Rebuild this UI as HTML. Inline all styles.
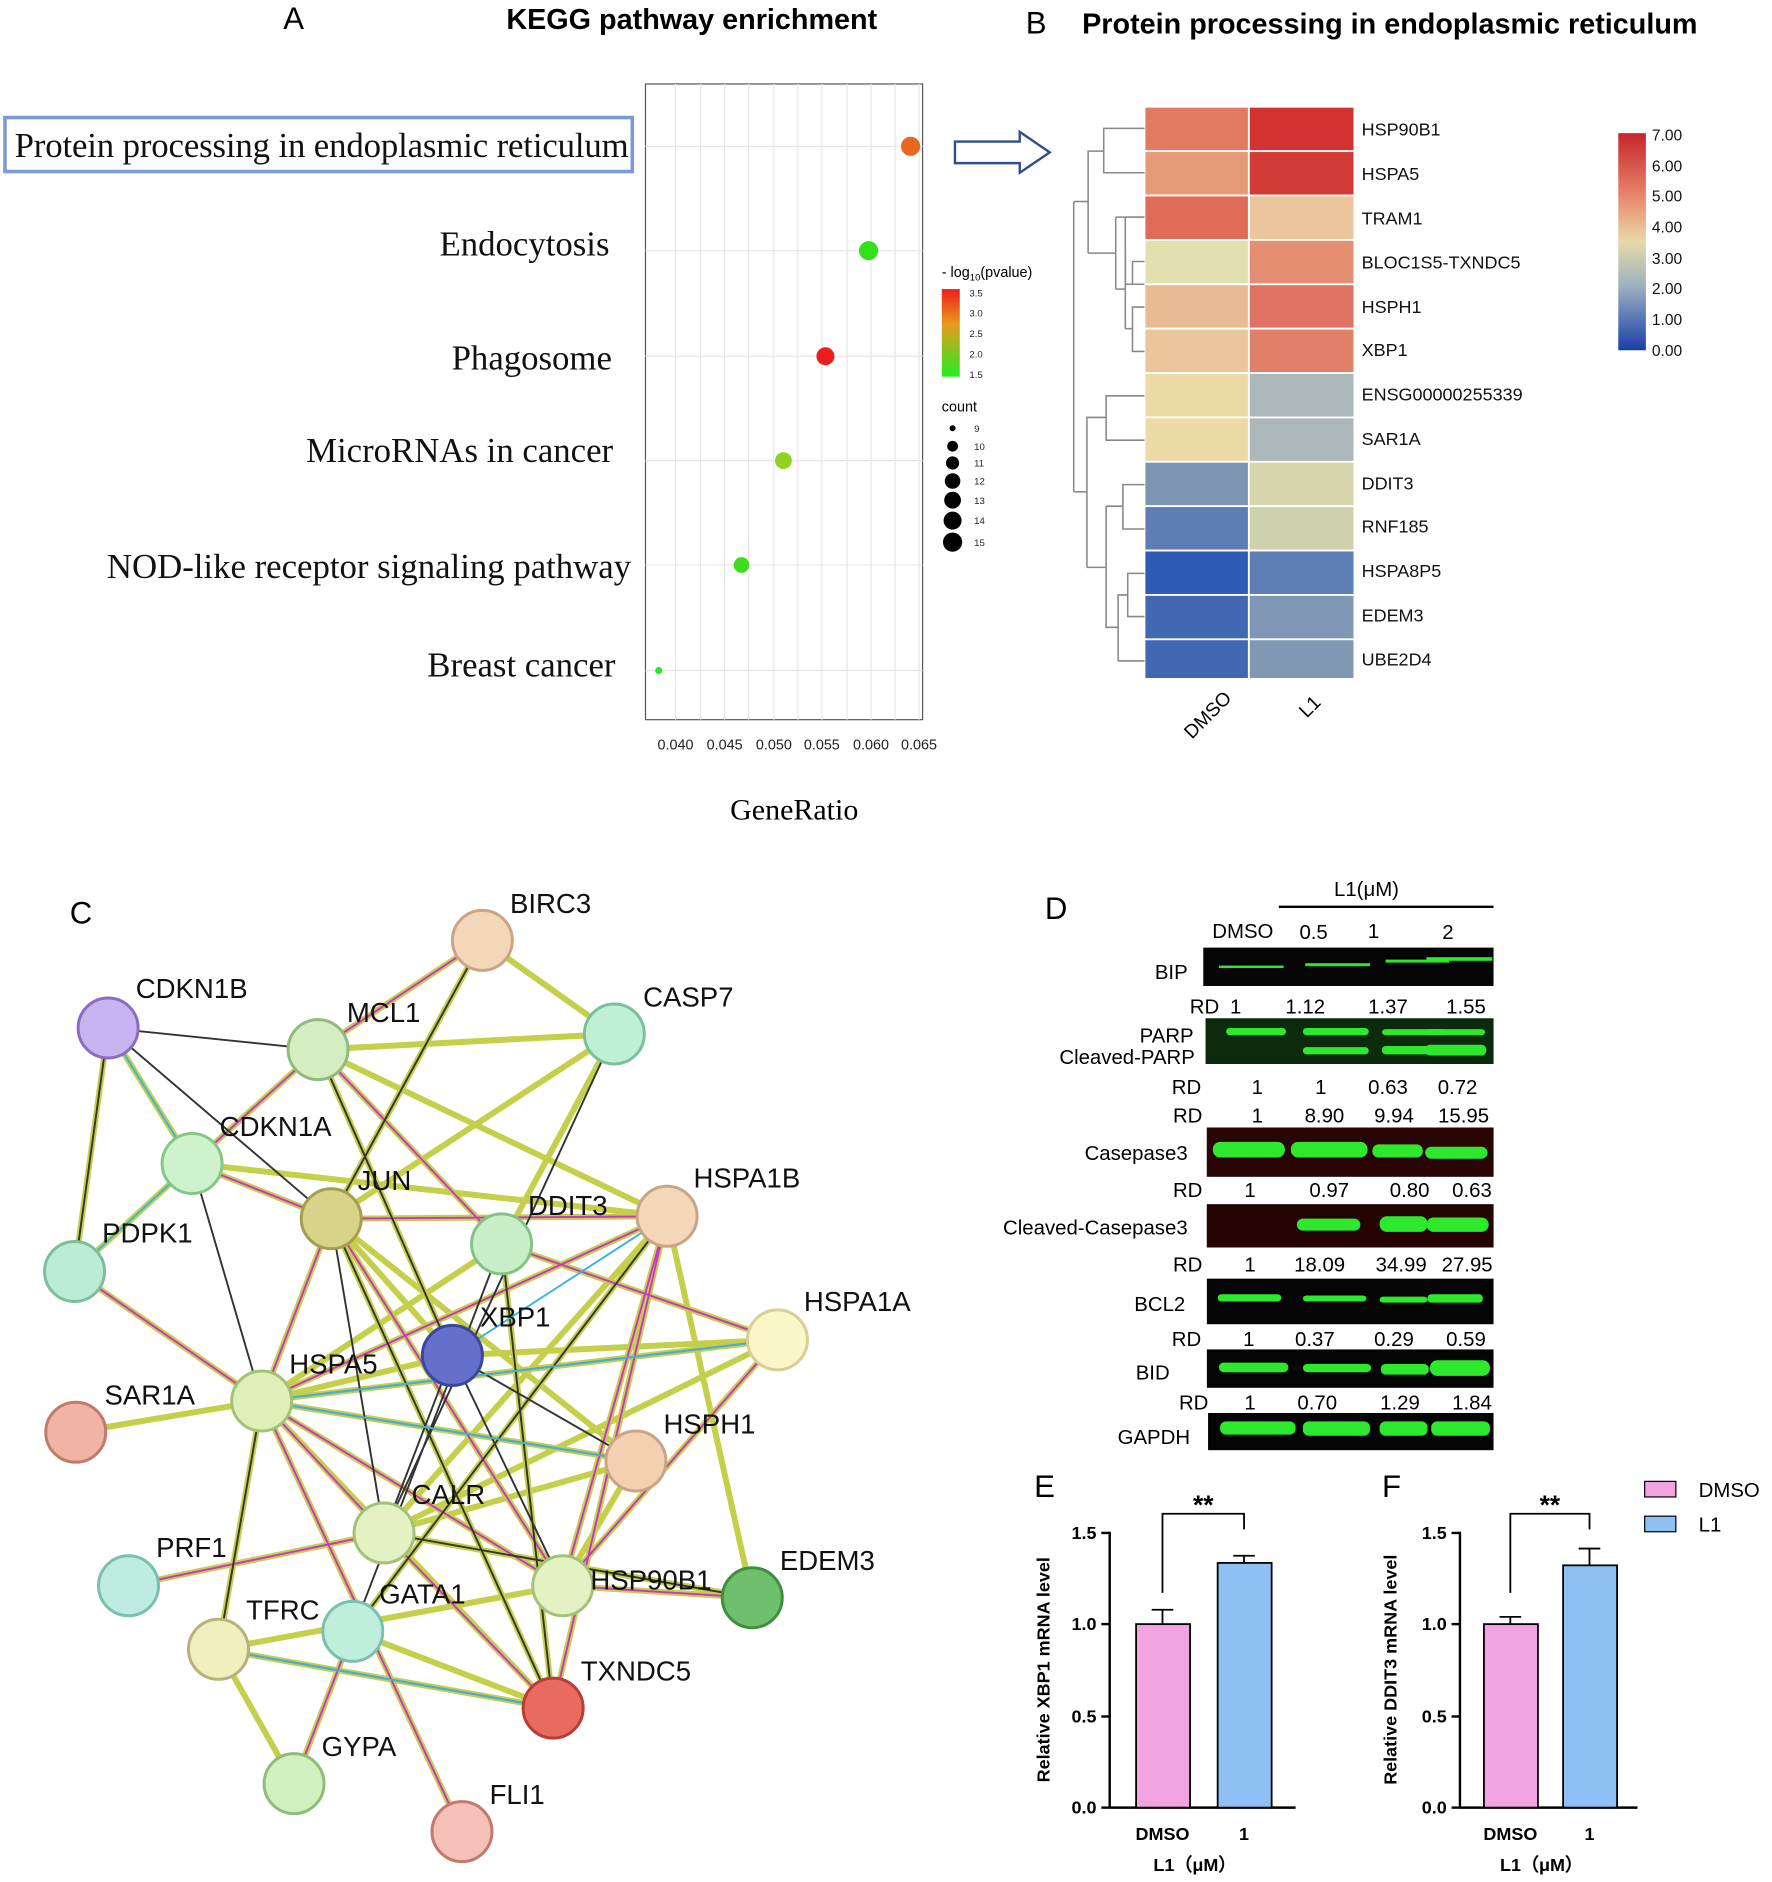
<!DOCTYPE html>
<html><head><meta charset="utf-8"><style>
html,body{margin:0;padding:0;background:#fff}
svg{display:block}
text{font-family:"Liberation Sans",sans-serif}
.ser text,text.ser{font-family:"Liberation Serif",serif}
</style></head><body>
<svg width="1772" height="1882" viewBox="0 0 1477 1569" xmlns="http://www.w3.org/2000/svg">
<!-- Panel A -->
<text x="236" y="24" font-size="26">A</text>
<text x="422" y="24" font-size="24" font-weight="bold">KEGG  pathway enrichment</text>
<rect x="538" y="70" width="231" height="530" fill="#fff" stroke="#555" stroke-width="1"/>
<g stroke="#e6e6e6" stroke-width="1">
<line x1="563" y1="70" x2="563" y2="600"/><line x1="584" y1="70" x2="584" y2="600"/><line x1="604" y1="70" x2="604" y2="600"/><line x1="624" y1="70" x2="624" y2="600"/><line x1="645" y1="70" x2="645" y2="600"/><line x1="665" y1="70" x2="665" y2="600"/><line x1="685" y1="70" x2="685" y2="600"/><line x1="706" y1="70" x2="706" y2="600"/><line x1="726" y1="70" x2="726" y2="600"/><line x1="746" y1="70" x2="746" y2="600"/><line x1="766" y1="70" x2="766" y2="600"/>
<line x1="538" y1="122" x2="769" y2="122"/><line x1="538" y1="209" x2="769" y2="209"/><line x1="538" y1="297" x2="769" y2="297"/><line x1="538" y1="384" x2="769" y2="384"/><line x1="538" y1="471" x2="769" y2="471"/><line x1="538" y1="559" x2="769" y2="559"/>
</g>
<g font-size="12" fill="#222" text-anchor="middle">
<text x="563" y="625">0.040</text><text x="604" y="625">0.045</text><text x="645" y="625">0.050</text><text x="685" y="625">0.055</text><text x="726" y="625">0.060</text><text x="766" y="625">0.065</text></g>
<text class="ser" x="662" y="683" font-size="25" text-anchor="middle">GeneRatio</text>
<circle cx="759" cy="122" r="8" fill="#e8661d"/>
<circle cx="724" cy="209" r="8" fill="#33e01a"/>
<circle cx="688" cy="297" r="7.5" fill="#ee1c1c"/>
<circle cx="653" cy="384" r="7" fill="#8fd321"/>
<circle cx="618" cy="471" r="6.5" fill="#3ddd1c"/>
<circle cx="549" cy="559" r="3" fill="#22ee22"/>
<rect x="4" y="98" width="523" height="45" fill="none" stroke="#7b9bd4" stroke-width="3"/>
<g class="ser" font-size="29" text-anchor="end" fill="#111">
<text x="524" y="131" textLength="512">Protein processing in endoplasmic reticulum</text>
<text x="508" y="213">Endocytosis</text>
<text x="510" y="308">Phagosome</text>
<text x="511" y="385">MicroRNAs in cancer</text>
<text x="526" y="482">NOD-like receptor signaling pathway</text>
<text x="513" y="564">Breast cancer</text></g>
<text x="785" y="231" font-size="12">- log<tspan font-size="8" dy="3">10</tspan><tspan dy="-3">(pvalue)</tspan></text>
<defs><linearGradient id="pg" x1="0" y1="0" x2="0" y2="1"><stop offset="0" stop-color="#ee1c1c"/><stop offset="0.4" stop-color="#e89a1c"/><stop offset="1" stop-color="#22ee22"/></linearGradient>
<linearGradient id="hg" x1="0" y1="0" x2="0" y2="1"><stop offset="0" stop-color="#c8242b"/><stop offset="0.3" stop-color="#e98a6d"/><stop offset="0.5" stop-color="#e8d9a6"/><stop offset="0.7" stop-color="#9fb2c0"/><stop offset="1" stop-color="#1a3fa8"/></linearGradient></defs>
<rect x="785" y="241" width="15" height="73" fill="url(#pg)"/>
<g font-size="8" fill="#222"><text x="808" y="247">3.5</text><text x="808" y="264">3.0</text><text x="808" y="281">2.5</text><text x="808" y="298">2.0</text><text x="808" y="315">1.5</text></g>
<text x="785" y="343" font-size="12">count</text>
<g fill="#000"><circle cx="794" cy="357" r="2.5"/><circle cx="794" cy="372" r="4.5"/><circle cx="794" cy="386" r="5.5"/><circle cx="794" cy="401" r="6.5"/><circle cx="794" cy="417" r="7"/><circle cx="794" cy="434" r="7.5"/><circle cx="794" cy="452" r="8"/></g>
<g font-size="8" fill="#222"><text x="812" y="360">9</text><text x="812" y="375">10</text><text x="812" y="389">11</text><text x="812" y="404">12</text><text x="812" y="420">13</text><text x="812" y="437">14</text><text x="812" y="455">15</text></g>
<path d="M796 118 H850 V110 L875 127 L850 144 V136 H796 Z" fill="#fff" stroke="#2f4f8a" stroke-width="2"/>
<!-- Panel B -->
<text x="855" y="28" font-size="26">B</text>
<text x="902" y="28" font-size="24" font-weight="bold">Protein processing in endoplasmic reticulum</text>
<g stroke="#fff" stroke-width="1.5">
<rect x="954" y="89" width="87" height="37" fill="#e07b62"/><rect x="1041" y="89" width="88" height="37" fill="#d23331"/>
<rect x="954" y="126" width="87" height="37" fill="#e69a78"/><rect x="1041" y="126" width="88" height="37" fill="#d23a35"/>
<rect x="954" y="163" width="87" height="37" fill="#de6c56"/><rect x="1041" y="163" width="88" height="37" fill="#ebc59b"/>
<rect x="954" y="200" width="87" height="37" fill="#e2dfb0"/><rect x="1041" y="200" width="88" height="37" fill="#e58f72"/>
<rect x="954" y="237" width="87" height="37" fill="#e9bb92"/><rect x="1041" y="237" width="88" height="37" fill="#df7260"/>
<rect x="954" y="274" width="87" height="37" fill="#ebc59b"/><rect x="1041" y="274" width="88" height="37" fill="#e18069"/>
<rect x="954" y="311" width="87" height="37" fill="#ecdba6"/><rect x="1041" y="311" width="88" height="37" fill="#abb7b8"/>
<rect x="954" y="348" width="87" height="37" fill="#ecdba6"/><rect x="1041" y="348" width="88" height="37" fill="#abb7b8"/>
<rect x="954" y="385" width="87" height="37" fill="#7e94b3"/><rect x="1041" y="385" width="88" height="37" fill="#d6d5ab"/>
<rect x="954" y="422" width="87" height="37" fill="#5d7db4"/><rect x="1041" y="422" width="88" height="37" fill="#cfd1ac"/>
<rect x="954" y="459" width="87" height="37" fill="#2e5cb5"/><rect x="1041" y="459" width="88" height="37" fill="#5e7eb6"/>
<rect x="954" y="496" width="87" height="37" fill="#4268b4"/><rect x="1041" y="496" width="88" height="37" fill="#7f97b5"/>
<rect x="954" y="533" width="87" height="33" fill="#4268b4"/><rect x="1041" y="533" width="88" height="33" fill="#8198b4"/>
</g>
<g font-size="15" fill="#111">
<text x="1135" y="113">HSP90B1</text><text x="1135" y="150">HSPA5</text><text x="1135" y="187">TRAM1</text><text x="1135" y="224">BLOC1S5-TXNDC5</text><text x="1135" y="261">HSPH1</text><text x="1135" y="297">XBP1</text><text x="1135" y="334">ENSG00000255339</text><text x="1135" y="371">SAR1A</text><text x="1135" y="408">DDIT3</text><text x="1135" y="444">RNF185</text><text x="1135" y="481">HSPA8P5</text><text x="1135" y="518">EDEM3</text><text x="1135" y="555">UBE2D4</text></g>
<g fill="none" stroke="#888" stroke-width="1.3">
<path d="M954 107 H920 V144 H954"/><path d="M954 181 H938 V237 H954"/><path d="M954 218 H944 V237"/>
<path d="M954 256 H944 V293 H954"/><path d="M944 274 H938"/><path d="M938 209 V274"/><path d="M938 241 H930"/><path d="M930 181 V241"/>
<path d="M954 181 H930"/><path d="M930 211 H907"/><path d="M920 126 H907 V211"/><path d="M907 168 H895"/>
<path d="M954 330 H922 V367 H954"/><path d="M954 404 H936 V441 H954"/><path d="M954 478 H940 V514 H954"/><path d="M954 551 H932"/><path d="M940 496 H932 V551"/>
<path d="M932 523 H922 V422"/><path d="M936 422 H922"/><path d="M922 473 H906"/><path d="M922 348 H906 V473"/><path d="M906 410 H895"/><path d="M895 168 V410"/></g>
<text x="975" y="612" font-size="16" transform="rotate(-45 990 592)">DMSO</text>
<text x="1078" y="598" font-size="16" transform="rotate(-45 1085 585)">L1</text>
<rect x="1349" y="111" width="23" height="181" fill="url(#hg)"/>
<g font-size="13" fill="#111"><text x="1377" y="117">7.00</text><text x="1377" y="143">6.00</text><text x="1377" y="168">5.00</text><text x="1377" y="194">4.00</text><text x="1377" y="220">3.00</text><text x="1377" y="245">2.00</text><text x="1377" y="271">1.00</text><text x="1377" y="297">0.00</text></g>
<!-- Panel C -->
<text x="58" y="770" font-size="26">C</text>
<g stroke-width="5" fill="none" stroke="#c4d04a">
<path d="M402 784 L265 875 M402 784 L512 862 M402 784 L276 1016 M90 857 L62 1060 M90 857 L160 970 M265 875 L512 862 M265 875 L160 970 M265 875 L418 1037 M265 875 L556 1014 M265 875 L377 1130 M512 862 L276 1016 M512 862 L418 1037 M160 970 L276 1016 M160 970 L62 1060 M160 970 L556 1014 M276 1016 L556 1014 M276 1016 L218 1168 M276 1016 L377 1130 M276 1016 L530 1218 M276 1016 L469 1322 M418 1037 L218 1168 M418 1037 L648 1117 M556 1014 L218 1168 M556 1014 L320 1278 M556 1014 L469 1322 M556 1014 L627 1332 M556 1014 L461 1424 M377 1130 L648 1117 M377 1130 L218 1168 M218 1168 L648 1117 M218 1168 L530 1218 M218 1168 L320 1278 M218 1168 L469 1322 M218 1168 L461 1424 M218 1168 L63 1194 M218 1168 L182 1375 M62 1060 L218 1168 M320 1278 L107 1322 M320 1278 L627 1332 M320 1278 L461 1424 M469 1322 L182 1375 M469 1322 L627 1332 M182 1375 L461 1424 M182 1375 L245 1487 M294 1360 L245 1487 M294 1360 L461 1424 M218 1168 L385 1527 M530 1218 L320 1278 M530 1218 L469 1322 M648 1117 L320 1278 M648 1117 L469 1322 M418 1037 L461 1424 M276 1016 L461 1424 M556 1014 L294 1360"/>
</g>
<g stroke-width="1.6" fill="none" stroke="#cc33cc">
<path d="M402 784 L265 875 M265 875 L160 970 M265 875 L418 1037 M160 970 L276 1016 M276 1016 L556 1014 M276 1016 L218 1168 M276 1016 L469 1322 M556 1014 L218 1168 M556 1014 L469 1322 M556 1014 L461 1424 M218 1168 L648 1117 M218 1168 L530 1218 M218 1168 L320 1278 M218 1168 L469 1322 M320 1278 L107 1322 M320 1278 L461 1424 M469 1322 L627 1332 M182 1375 L461 1424 M294 1360 L245 1487 M218 1168 L385 1527 M648 1117 L469 1322 M62 1060 L218 1168 M418 1037 L648 1117"/>
</g>
<g stroke-width="1.6" fill="none" stroke="#333">
<path d="M402 784 L276 1016 M90 857 L62 1060 M90 857 L265 875 M90 857 L276 1016 M265 875 L377 1130 M512 862 L320 1278 M160 970 L218 1168 M276 1016 L320 1278 M276 1016 L461 1424 M418 1037 L461 1424 M377 1130 L320 1278 M377 1130 L530 1218 M218 1168 L182 1375 M320 1278 L627 1332 M556 1014 L294 1360 M418 1037 L294 1360 M377 1130 L469 1322"/>
</g>
<g stroke-width="1.6" fill="none" stroke="#3bb3e0"><path d="M90 857 L160 970 M160 970 L62 1060 M377 1130 L556 1014 M218 1168 L648 1117 M182 1375 L461 1424 M218 1168 L530 1218"/></g>
<g stroke-width="2.5">
<circle cx="402" cy="784" r="25" fill="#f4d7b8" stroke="#c9a585"/>
<circle cx="90" cy="857" r="25" fill="#c8b4f0" stroke="#8b6cc4"/>
<circle cx="265" cy="875" r="25" fill="#d6edc1" stroke="#8fbb7c"/>
<circle cx="512" cy="862" r="25" fill="#bff0d5" stroke="#7bbf9b"/>
<circle cx="160" cy="970" r="25" fill="#cdf2cc" stroke="#86c787"/>
<circle cx="276" cy="1016" r="25" fill="#d7d48a" stroke="#a39f4c"/>
<circle cx="418" cy="1037" r="25" fill="#c9efc9" stroke="#84c386"/>
<circle cx="556" cy="1014" r="25" fill="#f4d7b8" stroke="#c9a585"/>
<circle cx="62" cy="1060" r="25" fill="#bcecd3" stroke="#7bbf9b"/>
<circle cx="648" cy="1117" r="25" fill="#fbf6c7" stroke="#d7cf95"/>
<circle cx="377" cy="1130" r="25" fill="#6470c9" stroke="#3b46a0"/>
<circle cx="63" cy="1194" r="25" fill="#f0b3a4" stroke="#c17a6b"/>
<circle cx="218" cy="1168" r="25" fill="#def0b8" stroke="#a3c177"/>
<circle cx="530" cy="1218" r="25" fill="#f4cfb0" stroke="#c9a585"/>
<circle cx="320" cy="1278" r="25" fill="#e2f2c2" stroke="#a3c177"/>
<circle cx="107" cy="1322" r="25" fill="#bfece0" stroke="#7bbfae"/>
<circle cx="627" cy="1332" r="25" fill="#6fc06c" stroke="#3f8f3f"/>
<circle cx="469" cy="1322" r="25" fill="#e2f2c2" stroke="#a3c177"/>
<circle cx="294" cy="1360" r="25" fill="#c0eedc" stroke="#7bbfae"/>
<circle cx="182" cy="1375" r="25" fill="#f2efbe" stroke="#b7b27a"/>
<circle cx="461" cy="1424" r="25" fill="#e96a5f" stroke="#b73d35"/>
<circle cx="245" cy="1487" r="25" fill="#d0f0c0" stroke="#8fbb7c"/>
<circle cx="385" cy="1527" r="25" fill="#f4c0b8" stroke="#c17a6b"/>
</g>
<g font-size="23" fill="#111">
<text x="425" y="761">BIRC3</text><text x="113" y="832">CDKN1B</text><text x="289" y="852">MCL1</text><text x="536" y="839">CASP7</text><text x="183" y="947">CDKN1A</text><text x="298" y="992">JUN</text><text x="440" y="1013">DDIT3</text><text x="578" y="990">HSPA1B</text><text x="85" y="1036">PDPK1</text><text x="670" y="1093">HSPA1A</text><text x="400" y="1106">XBP1</text><text x="87" y="1171">SAR1A</text><text x="241" y="1145">HSPA5</text><text x="553" y="1195">HSPH1</text><text x="343" y="1254">CALR</text><text x="130" y="1298">PRF1</text><text x="650" y="1309">EDEM3</text><text x="492" y="1325">HSP90B1</text><text x="316" y="1337">GATA1</text><text x="205" y="1350">TFRC</text><text x="484" y="1401">TXNDC5</text><text x="268" y="1464">GYPA</text><text x="408" y="1504">FLI1</text></g>
<!-- Panel D -->
<text x="871" y="766" font-size="26">D</text>
<text x="1112" y="747" font-size="17">L1(μM)</text>
<line x1="1066" y1="756" x2="1245" y2="756" stroke="#000" stroke-width="2"/>
<g font-size="17" text-anchor="middle"><text x="1036" y="782">DMSO</text><text x="1095" y="783">0.5</text><text x="1145" y="782">1</text><text x="1207" y="783">2</text></g>
<g fill="#050505">
<rect x="1003" y="790" width="242" height="32"/><rect x="1005" y="849" width="240" height="38"/><rect x="1006" y="940" width="239" height="41"/><rect x="1006" y="1004" width="239" height="36"/><rect x="1006" y="1066" width="239" height="38"/><rect x="1006" y="1125" width="239" height="32"/><rect x="1007" y="1178" width="238" height="31"/></g>
<rect x="1006" y="940" width="239" height="41" fill="#2a0505"/><rect x="1006" y="1004" width="239" height="36" fill="#250404"/>
<rect x="1005" y="849" width="240" height="38" fill="#0c2a0c"/>
<g fill="#2ee82e">
<rect x="1016" y="805" width="54" height="2"/><rect x="1088" y="803" width="54" height="2.5"/><rect x="1155" y="800" width="53" height="2.5"/><rect x="1223" y="798" width="55" height="3" transform="translate(-34 0)"/>
<rect x="1022" y="857" width="50" height="6" rx="3"/><rect x="1086" y="857" width="55" height="6" rx="3"/><rect x="1152" y="858" width="54" height="5" rx="3"/><rect x="1188" y="858" width="50" height="5" rx="3"/>
<rect x="1086" y="873" width="55" height="6" rx="3"/><rect x="1152" y="872" width="56" height="7" rx="3"/><rect x="1188" y="871" width="51" height="9" rx="4"/>
<rect x="1011" y="952" width="60" height="13" rx="6"/><rect x="1076" y="952" width="64" height="13" rx="6"/><rect x="1144" y="954" width="42" height="11" rx="5"/><rect x="1188" y="956" width="52" height="10" rx="5"/>
<rect x="1081" y="1016" width="53" height="10" rx="5"/><rect x="1150" y="1014" width="40" height="13" rx="6"/><rect x="1189" y="1015" width="52" height="12" rx="6"/>
<rect x="1015" y="1079" width="53" height="6" rx="3"/><rect x="1086" y="1080" width="53" height="5" rx="3"/><rect x="1150" y="1081" width="40" height="5" rx="3"/><rect x="1190" y="1079" width="46" height="7" rx="3"/>
<rect x="1016" y="1136" width="58" height="8" rx="4"/><rect x="1086" y="1137" width="57" height="7" rx="4"/><rect x="1151" y="1137" width="40" height="9" rx="4"/><rect x="1192" y="1134" width="50" height="13" rx="6"/>
<rect x="1017" y="1185" width="63" height="11" rx="5"/><rect x="1086" y="1185" width="56" height="12" rx="5"/><rect x="1150" y="1185" width="40" height="12" rx="5"/><rect x="1193" y="1185" width="49" height="12" rx="5"/></g>
<g font-size="17" text-anchor="end"><text x="990" y="816">BIP</text><text x="995" y="869">PARP</text><text x="996" y="887">Cleaved-PARP</text><text x="990" y="967">Casepase3</text><text x="990" y="1029">Cleaved-Casepase3</text><text x="988" y="1093">BCL2</text><text x="975" y="1150">BID</text><text x="992" y="1204">GAPDH</text></g>
<g font-size="17" text-anchor="middle">
<text x="1004" y="845">RD</text><text x="1030" y="845">1</text><text x="1088" y="845">1.12</text><text x="1157" y="845">1.37</text><text x="1222" y="845">1.55</text>
<text x="989" y="912">RD</text><text x="1048" y="912">1</text><text x="1101" y="912">1</text><text x="1157" y="912">0.63</text><text x="1215" y="912">0.72</text>
<text x="990" y="936">RD</text><text x="1048" y="936">1</text><text x="1104" y="936">8.90</text><text x="1162" y="936">9.94</text><text x="1220" y="936">15.95</text>
<text x="990" y="998">RD</text><text x="1042" y="998">1</text><text x="1108" y="998">0.97</text><text x="1175" y="998">0.80</text><text x="1227" y="998">0.63</text>
<text x="990" y="1060">RD</text><text x="1042" y="1060">1</text><text x="1100" y="1060">18.09</text><text x="1168" y="1060">34.99</text><text x="1223" y="1060">27.95</text>
<text x="989" y="1122">RD</text><text x="1041" y="1122">1</text><text x="1096" y="1122">0.37</text><text x="1162" y="1122">0.29</text><text x="1222" y="1122">0.59</text>
<text x="995" y="1175">RD</text><text x="1042" y="1175">1</text><text x="1098" y="1175">0.70</text><text x="1167" y="1175">1.29</text><text x="1227" y="1175">1.84</text></g>
<!-- E -->
<text x="862" y="1248" font-size="26">E</text>
<line x1="925" y1="1277" x2="925" y2="1507" stroke="#000" stroke-width="2"/>
<line x1="925" y1="1507" x2="1080" y2="1507" stroke="#000" stroke-width="2"/>
<g stroke="#000" stroke-width="2"><line x1="918" y1="1278" x2="925" y2="1278"/><line x1="918" y1="1354" x2="925" y2="1354"/><line x1="918" y1="1431" x2="925" y2="1431"/><line x1="918" y1="1507" x2="925" y2="1507"/></g>
<g font-size="15" font-weight="bold" text-anchor="end"><text x="914" y="1283">1.5</text><text x="914" y="1359">1.0</text><text x="914" y="1436">0.5</text><text x="914" y="1512">0.0</text></g>
<rect x="947" y="1354" width="45" height="153" fill="#f2a4e2" stroke="#000" stroke-width="1.5"/>
<rect x="1015" y="1303" width="45" height="204" fill="#8fc0f5" stroke="#000" stroke-width="1.5"/>
<path d="M969 1354V1342M960 1342H978M1037 1303V1297M1028 1297H1046" stroke="#000" stroke-width="1.5"/>
<path d="M969 1328V1262H1037V1275" fill="none" stroke="#000" stroke-width="1.5"/>
<text x="1003" y="1262" font-size="22" font-weight="bold" text-anchor="middle">**</text>
<text x="875" y="1392" font-size="15" font-weight="bold" text-anchor="middle" transform="rotate(-90 875 1392)">Relative XBP1 mRNA level</text>
<g font-size="15" font-weight="bold" text-anchor="middle"><text x="969" y="1534">DMSO</text><text x="1037" y="1534">1</text><text x="996" y="1560">L1（μM）</text></g>
<!-- F -->
<text x="1152" y="1248" font-size="26">F</text>
<line x1="1217" y1="1277" x2="1217" y2="1507" stroke="#000" stroke-width="2"/>
<line x1="1217" y1="1507" x2="1365" y2="1507" stroke="#000" stroke-width="2"/>
<g stroke="#000" stroke-width="2"><line x1="1210" y1="1278" x2="1217" y2="1278"/><line x1="1210" y1="1354" x2="1217" y2="1354"/><line x1="1210" y1="1431" x2="1217" y2="1431"/><line x1="1210" y1="1507" x2="1217" y2="1507"/></g>
<g font-size="15" font-weight="bold" text-anchor="end"><text x="1206" y="1283">1.5</text><text x="1206" y="1359">1.0</text><text x="1206" y="1436">0.5</text><text x="1206" y="1512">0.0</text></g>
<rect x="1237" y="1354" width="45" height="153" fill="#f2a4e2" stroke="#000" stroke-width="1.5"/>
<rect x="1303" y="1305" width="45" height="202" fill="#8fc0f5" stroke="#000" stroke-width="1.5"/>
<path d="M1259 1354V1348M1250 1348H1268M1325 1305V1291M1316 1291H1334" stroke="#000" stroke-width="1.5"/>
<path d="M1259 1328V1262H1325V1275" fill="none" stroke="#000" stroke-width="1.5"/>
<text x="1292" y="1262" font-size="22" font-weight="bold" text-anchor="middle">**</text>
<text x="1164" y="1392" font-size="15" font-weight="bold" text-anchor="middle" transform="rotate(-90 1164 1392)">Relative DDIT3 mRNA level</text>
<g font-size="15" font-weight="bold" text-anchor="middle"><text x="1259" y="1534">DMSO</text><text x="1325" y="1534">1</text><text x="1285" y="1560">L1（μM）</text></g>
<rect x="1371" y="1235" width="26" height="13" fill="#f2a4e2" stroke="#000"/><text x="1416" y="1248" font-size="17">DMSO</text>
<rect x="1371" y="1264" width="26" height="13" fill="#8fc0f5" stroke="#000"/><text x="1416" y="1277" font-size="17">L1</text>
</svg>
</body></html>
